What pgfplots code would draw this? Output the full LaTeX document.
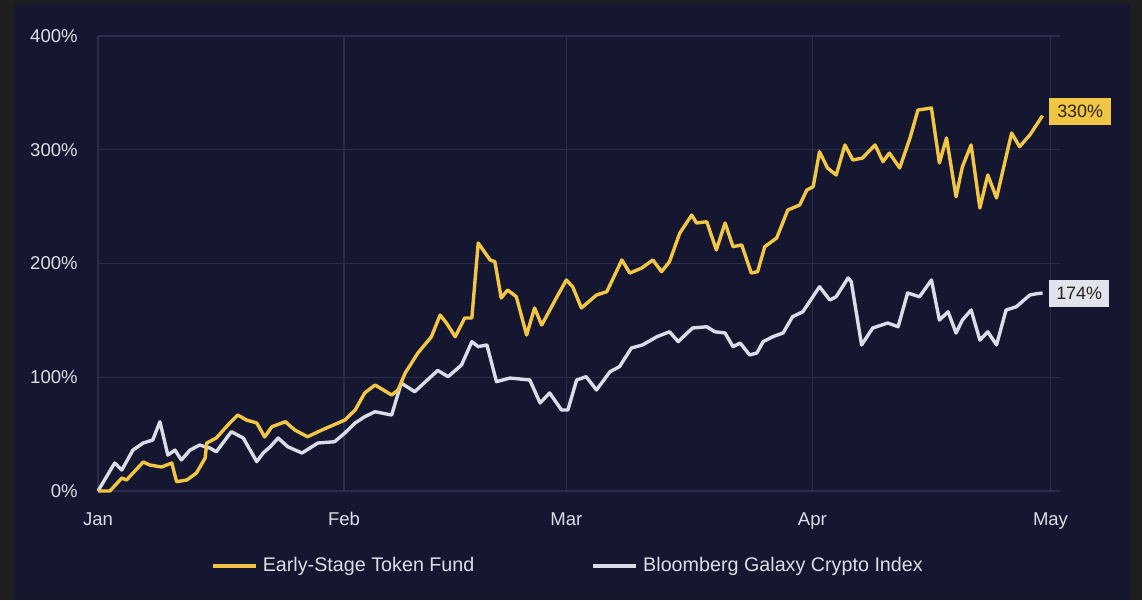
\documentclass[border=0pt]{standalone}
\usepackage{pgfplots}
\pgfplotsset{compat=1.18}
\usepackage{fontspec}
\setmainfont{Liberation Sans}
\definecolor{navy}{HTML}{151731}
\definecolor{outerc}{HTML}{1E1E1E}
\definecolor{gold}{HTML}{F2C645}
\definecolor{silver}{HTML}{DADCE8}
\definecolor{gridc}{HTML}{2A2D4A}
\definecolor{txt}{HTML}{DCDEE6}
\definecolor{boxtxt}{HTML}{2A2418}
\begin{document}
\begin{tikzpicture}[x=1bp,y=1bp]
\fill[outerc] (0,0) rectangle (571,300);
\fill[navy] (7,0) rectangle (565.5,298);
\useasboundingbox (0,0) rectangle (571,300);
\begin{axis}[
  at={(49bp,54.5bp)}, anchor=south west, scale only axis,
  width=481bp, height=227.5bp,
  xmin=0, xmax=121.2, ymin=0, ymax=400,
  clip=false,
  axis line style={draw=none},
  tick style={draw=none},
  xtick={0,31,59,90,120},
  xticklabels={Jan,Feb,Mar,Apr,May},
  ytick={0,100,200,300,400},
  yticklabels={0\%,100\%,200\%,300\%,400\%},
  grid=major,
  major grid style={draw=gridc, line width=0.7bp},
  tick label style={font=\fontsize{9.3}{11}\selectfont, text=txt, inner sep=0pt},
  yticklabel style={anchor=east, xshift=-10bp},
  xticklabel style={anchor=north, yshift=-10.5bp},
  legend style={at={(0.49,-0.165)}, anchor=center, draw=none, fill=none,
    text=txt, font=\fontsize{9.9}{11}\selectfont, legend columns=2,
    /tikz/every even column/.append style={column sep=56bp},
    nodes={inner xsep=2.5bp}},
  legend image code/.code={\draw[#1, line width=1.9bp] (0bp,0bp) -- (21.5bp,0bp);},
]
\addlegendimage{gold}
\addlegendentry{Early-Stage Token Fund}
\addlegendimage{silver}
\addlegendentry{Bloomberg Galaxy Crypto Index}

\addplot[silver, line width=1.7bp, line join=round, forget plot] coordinates {
(0,0) (2.1,24.6) (3.0,18.5) (4.4,36.0) (5.7,42.2) (6.9,44.8) (7.8,60.9) (8.8,31.6) (9.7,36.0) (10.5,27.3) (11.6,36.0) (12.8,40.4) (14.1,37.8) (14.9,34.5) (16.8,52.1) (18.3,46.6) (20.0,25.8) (20.8,33.4) (21.7,38.9) (22.7,46.6) (23.9,38.9) (25.7,33.4) (27.7,42.2) (29.8,43.3) (31.1,51.0) (32.4,59.8) (33.6,65.3) (34.9,69.7) (37.0,66.8) (38.2,94.9) (39.9,87.3) (42.8,106) (44.1,100.5) (45.8,110.8) (47.1,131.3) (47.9,126.9) (49.0,128.4) (50.2,96.1) (51.9,99.3) (54.4,97.6) (55.7,77.4) (56.9,86.2) (58.4,71.2) (59.2,71.2) (60.3,97.6) (61.5,100.5) (62.8,88.8) (64.5,104.9) (65.7,109.3) (67.2,125.7) (68.6,128.4) (70.4,135.6) (72.0,140.0) (73.1,131.3) (74.9,143.3) (76.7,144.4) (77.7,140.0) (79.0,138.9) (80.0,126.9) (80.9,130.1) (82.1,119.6) (83.0,121.3) (83.8,131.3) (85.0,135.6) (86.3,138.9) (87.5,153.2) (88.8,157.6) (90.9,179.6) (92.2,167.9) (93.0,170.8) (94.5,187.3) (94.9,184.0) (96.2,128.4) (97.6,143.3) (99.5,147.7) (100.8,144.4) (102.0,174.1) (103.5,170.8) (105.0,185.5) (106.0,150.3) (107.1,157.6) (108.1,138.9) (108.9,150.3) (110.0,159.1) (111.1,132.7) (112.1,140.0) (113.2,128.4) (114.4,159.1) (115.7,162.0) (117.4,172.3) (118.3,173.5) (119.0,174)
} node[pos=1, anchor=west, xshift=2.5bp, fill=silver!80!white, text=boxtxt, inner xsep=3.5bp, inner ysep=0pt, minimum height=13.5bp, font=\fontsize{9}{10}\selectfont] {174\%};

\addplot[gold, line width=1.7bp, line join=round, forget plot] coordinates {
(0,0) (1.5,0) (3.0,11.4) (3.6,9.7) (5.7,25.5) (6.5,22.9) (8.0,21.1) (9.3,24.6) (9.9,8.2) (11.2,9.7) (12.4,15.8) (13.5,29.0) (13.7,42.2) (14.9,46.6) (16.6,59.8) (17.6,66.8) (18.7,62.4) (20.0,59.8) (21.0,47.5) (21.9,56.5) (23.6,60.9) (24.8,53.6) (26.4,47.7) (28.2,53.6) (31.1,62.4) (32.4,71.2) (33.6,86.2) (34.9,93.2) (37.0,84.4) (37.8,88.8) (38.7,103.7) (40.3,121.3) (42.0,135.6) (43.1,154.7) (43.9,147.7) (45.0,135.6) (46.2,152.1) (47.1,152.1) (47.9,218.0) (49.4,203.1) (50.0,201.6) (50.8,169.7) (51.6,176.7) (52.7,170.8) (54.0,137.1) (55.0,160.9) (55.9,145.9) (57.6,167.9) (59.0,185.5) (59.8,179.6) (60.9,160.9) (62.8,172.3) (64.1,175.2) (66.0,203.1) (67.0,191.6) (68.5,196.0) (69.9,203.1) (71.0,192.8) (72.0,201.6) (73.3,226.8) (74.8,242.6) (75.4,235.6) (76.7,236.7) (77.9,211.9) (79.0,235.6) (80.0,214.8) (81.1,216.3) (82.3,191.6) (83.1,192.8) (84.0,214.8) (85.5,222.4) (86.9,247.0) (88.4,251.4) (89.3,264.6) (90.1,267.5) (90.9,298.3) (91.9,284.0) (93.0,277.8) (94.1,304.2) (95.1,291.0) (96.3,292.7) (97.9,304.2) (98.9,289.5) (99.7,297.1) (101.0,284.0) (102.3,310.3) (103.3,334.9) (105.0,336.7) (106.0,288.4) (106.9,310.3) (108.1,258.7) (108.9,285.1) (110.0,304.2) (111.1,248.8) (112.1,277.8) (113.2,257.6) (115.1,314.7) (116.1,302.7) (117.4,313.0) (119.0,330)
} node[pos=1, anchor=west, xshift=2.5bp, yshift=2bp, fill=gold, text=boxtxt, inner xsep=4bp, inner ysep=0pt, minimum height=13.5bp, font=\fontsize{9}{10}\selectfont] {330\%};
\end{axis}
\end{tikzpicture}
\end{document}
